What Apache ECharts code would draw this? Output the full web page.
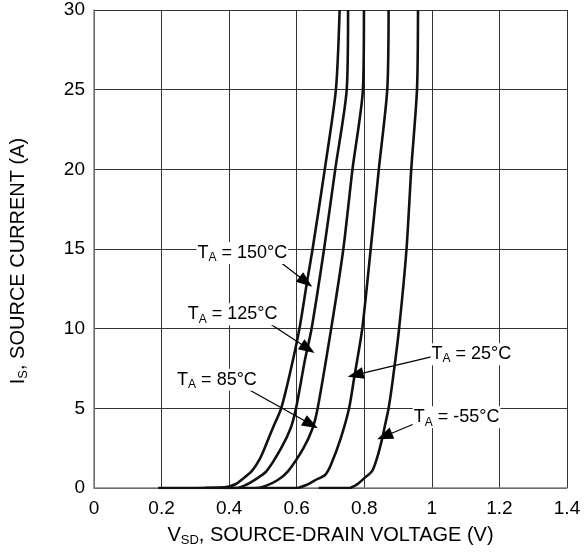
<!DOCTYPE html>
<html>
<head>
<meta charset="utf-8">
<script src="https://cdn.jsdelivr.net/npm/echarts@6/dist/echarts.min.js"></script>
<style>
html,body{margin:0;padding:0;background:#fff;}
#chart{width:588px;height:552px;}
</style>
</head>
<body>
<div id="chart"></div>
<script>
// Source-drain voltage (V) / source current (A) pairs per ambient temperature
var v150 = [0.19, 0.30, 0.37, 0.40, 0.42, 0.436, 0.466, 0.49, 0.505, 0.529, 0.554, 0.58, 0.608, 0.631, 0.647, 0.683, 0.716, 0.727];
var i150 = [0, 0, 0.03, 0.1, 0.25, 0.5, 1.04, 1.8, 2.5, 3.75, 5, 7.2, 10, 13, 15, 20, 25, 30];

var v125 = [0.33, 0.42, 0.445, 0.475, 0.51, 0.554, 0.582, 0.598, 0.624, 0.644, 0.681, 0.714, 0.748, 0.752];
var i125 = [0, 0, 0.15, 0.5, 1.04, 2.5, 3.75, 5, 8, 10, 15, 20, 25, 30];

var v85 = [0.38, 0.48, 0.51, 0.544, 0.574, 0.62, 0.647, 0.662, 0.702, 0.738, 0.765, 0.796, 0.799];
var i85 = [0, 0, 0.15, 0.5, 1.04, 2.5, 3.75, 5, 10, 15, 20, 25, 30];

var v25 = [0.48, 0.60, 0.63, 0.655, 0.683, 0.70, 0.73, 0.755, 0.77, 0.794, 0.819, 0.843, 0.868, 0.872];
var i25 = [0, 0, 0.2, 0.5, 0.8, 1.4, 3.1, 5, 6.9, 10, 15, 20, 25, 30];

var vm55 = [0.665, 0.755, 0.78, 0.799, 0.823, 0.838, 0.853, 0.862, 0.872, 0.885, 0.903, 0.925, 0.939, 0.956, 0.959];
var im55 = [0, 0, 0.25, 0.6, 1.06, 1.9, 3.1, 4.0, 5, 6.9, 10, 15, 20, 25, 30];

var temps = ['150', '125', '85', '25', '-55'];
// label anchor [V, A], arrow start [V, A], arrow end [V, A]
var labelAt = [[0.439, 14.75], [0.41, 10.9], [0.364, 6.8], [1.117, 8.4], [1.073, 4.44]];
var arrowFrom = [[0.547, 14.25], [0.489, 10.75], [0.431, 6.5], [1.001, 8.25], [0.966, 4.19]];
var arrowTo = [[0.627, 12.94], [0.633, 8.75], [0.642, 4.0], [0.774, 7.1], [0.86, 3.25]];

var xTicks = [0, 0.2, 0.4, 0.6, 0.8, 1, 1.2, 1.4];
var yTicks = [0, 5, 10, 15, 20, 25, 30];

var FONT = '"Liberation Sans", Arial, sans-serif';

function pairs(v, i) { return v.map(function (x, k) { return [x, i[k]]; }); }
var curves = [pairs(v150, i150), pairs(v125, i125), pairs(v85, i85), pairs(v25, i25), pairs(vm55, im55)];

var rich = {
  t: { fontSize: 18, fontFamily: FONT, color: '#000' },
  s: { fontSize: 12, fontFamily: FONT, color: '#000', padding: [10, 0, 0, 0] }
};

var series = curves.map(function (d, k) {
  return {
    type: 'line',
    data: d,
    smooth: 0.25,
    showSymbol: false,
    lineStyle: { color: '#111', width: 2.6 },
    silent: true,
    z: 3,
    markLine: {
      silent: true,
      symbol: ['none', 'triangle'],
      symbolSize: [12, 16],
      lineStyle: { color: '#000', width: 1.2, type: 'solid' },
      itemStyle: { color: '#1a1a1a' },
      label: { show: false },
      data: [[{ coord: arrowFrom[k] }, { coord: arrowTo[k] }]],
      z: 5
    },
    markPoint: {
      silent: true,
      symbol: 'rect',
      symbolSize: 0,
      data: [{ coord: labelAt[k] }],
      label: {
        show: true,
        position: 'inside',
        formatter: '{t|T}{s|A}{t| = ' + temps[k] + '°C}',
        backgroundColor: '#fff',
        padding: [0, 1, 0, 1],
        rich: rich
      },
      z: 6
    }
  };
});

var chart = echarts.init(document.getElementById('chart'), null, { renderer: 'canvas' });
chart.setOption({
  animation: false,
  backgroundColor: '#fff',
  grid: { left: 92, right: 21, top: 10, bottom: 62, containLabel: false },
  xAxis: {
    type: 'value', min: 0, max: 1.4, interval: 0.2,
    axisLine: { show: true, onZero: false, lineStyle: { color: '#808080', width: 1.5 } },
    axisTick: { show: false },
    splitLine: { show: true, lineStyle: { color: '#333', width: 1 } },
    axisLabel: {
      fontSize: 19, fontFamily: FONT, color: '#000', margin: 11,
      formatter: function (v) { var r = xTicks.filter(function (t) { return Math.abs(t - v) < 1e-6; }); return r.length ? String(r[0]) : ''; }
    },
    name: '{t|V}{s|SD}{t|, SOURCE-DRAIN VOLTAGE (V)}',
    nameLocation: 'middle', nameGap: 35,
    nameTextStyle: {
      rich: {
        t: { fontSize: 20, fontFamily: FONT, color: '#000' },
        s: { fontSize: 13, fontFamily: FONT, color: '#000', padding: [11, 0, 0, 0] }
      }
    }
  },
  yAxis: {
    type: 'value', min: 0, max: 30, interval: 5,
    axisLine: { show: true, onZero: false, lineStyle: { color: '#808080', width: 1.5 } },
    axisTick: { show: false },
    splitLine: { show: true, lineStyle: { color: '#333', width: 1 } },
    axisLabel: {
      fontSize: 19, fontFamily: FONT, color: '#000', margin: 9,
      formatter: function (v) { return yTicks.indexOf(v) >= 0 ? String(v) : ''; }
    },
    name: '{t|I}{s|S}{t|, SOURCE CURRENT (A)}',
    nameLocation: 'middle', nameGap: 64, nameRotate: 90,
    nameTextStyle: {
      padding: [0, 24, 0, 0],
      rich: {
        t: { fontSize: 20, fontFamily: FONT, color: '#000' },
        s: { fontSize: 13, fontFamily: FONT, color: '#000', padding: [11, 0, 0, 0] }
      }
    }
  },
  series: series
});
</script>
</body>
</html>
